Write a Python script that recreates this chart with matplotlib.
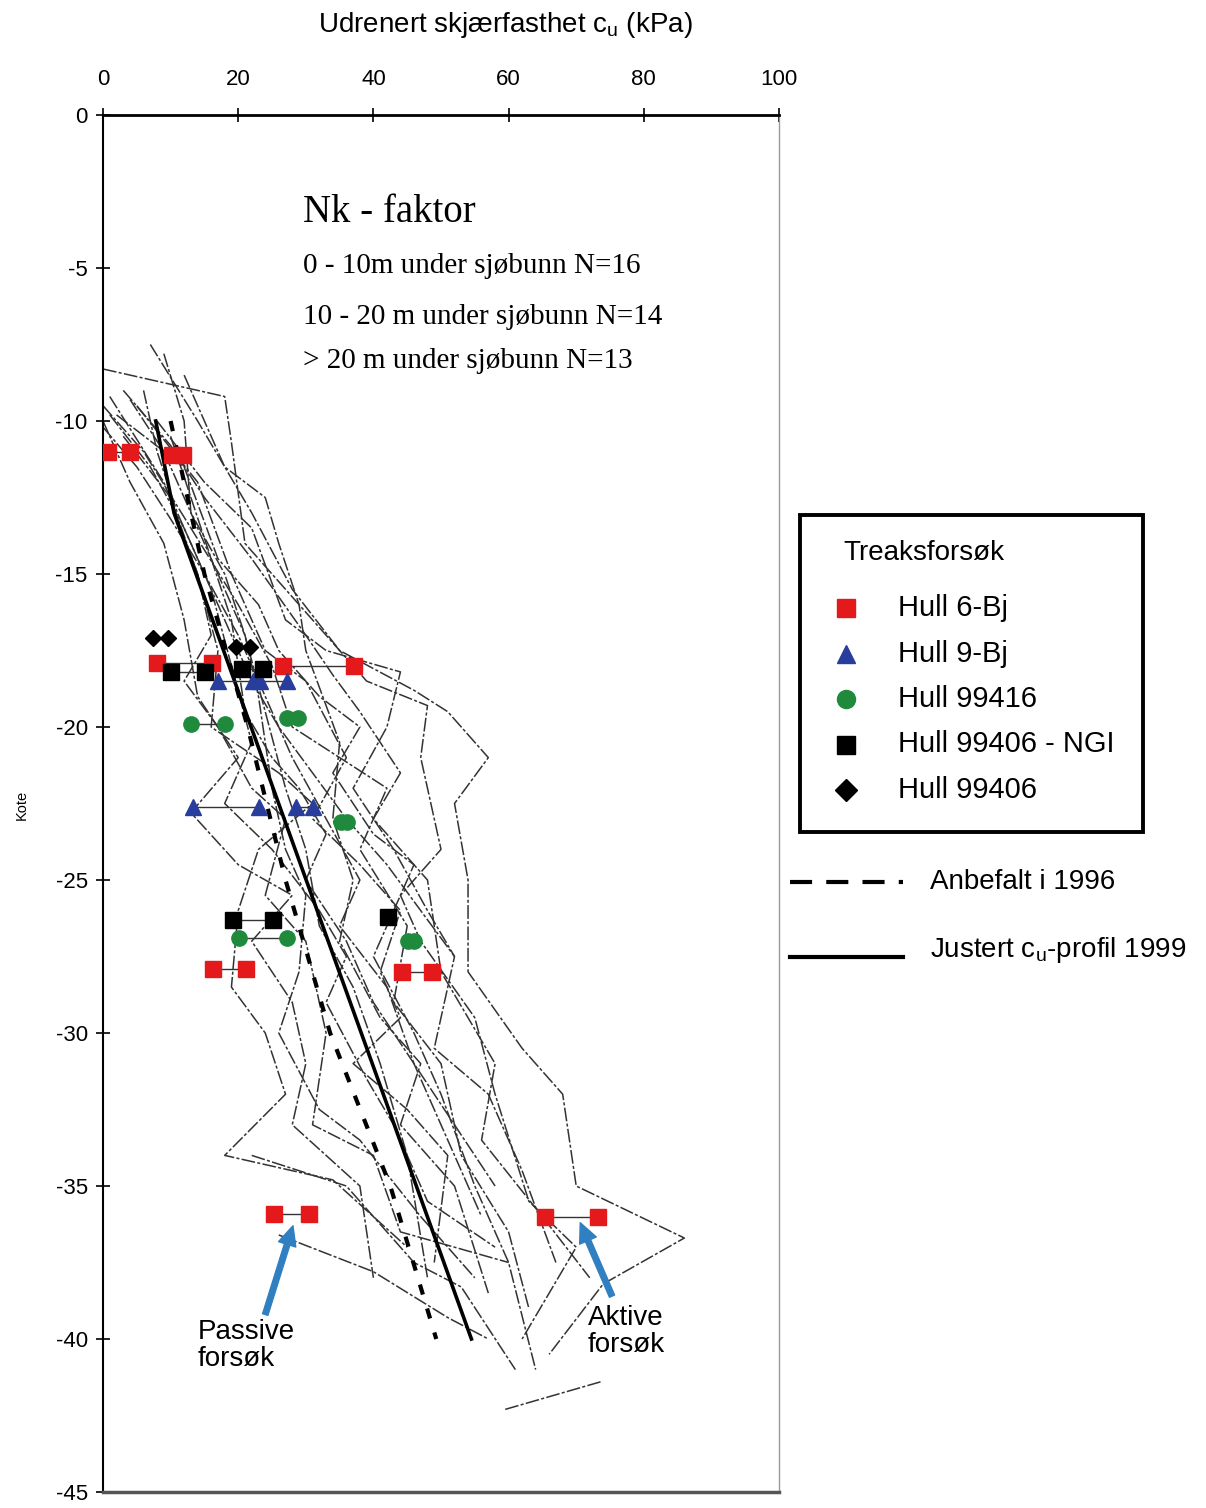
import matplotlib.pyplot as plt
from matplotlib.patches import Rectangle

plt.rcParams['font.family'] = ['Liberation Sans', 'DejaVu Sans']
plt.rcParams['axes.unicode_minus'] = False

# CPT-profiler (cu, kote) lest av figuren
cpt_cu = [
    [7, 14, 22, 28, 35, 46, 51, 57, 52, 54, 54, 62, 68, 70, 86, 74, 66],
    [0, 18, 19, 21, 27, 33, 39, 48, 47, 50, 44, 47, 55, 58, 63, 70, 62],
    [3, 10, 15, 22, 30, 34, 38, 44, 40, 48, 50, 58, 56, 65, 72],
    [0, 6, 13, 20, 25, 28, 35, 42, 38, 45, 43, 50, 53, 60, 63],
    [0, 4, 9, 12, 14, 20, 13, 20, 28, 22, 28, 30, 28, 38, 40],
    [1, 9, 14, 17, 16, 26, 31, 23, 20, 19, 24, 27, 18, 34, 45],
    [9, 12, 13, 18, 21, 23, 25, 27, 30, 29, 26, 32, 38, 47, 55],
    [2, 12, 17, 23, 26, 32, 38, 34, 40, 46, 40, 46, 50, 55, 60, 64],
    [6, 8, 11, 16, 19, 22, 18, 25, 32, 36, 33, 39, 43, 48, 58],
    [12, 18, 24, 26, 29, 30, 35, 34, 37, 35, 41, 47, 44, 52, 57],
    [5, 14, 19, 24, 30, 36, 31, 38, 44, 41, 44, 37, 45, 51, 49],
    [3, 10, 14, 16, 12, 17, 22, 27, 24, 30, 33, 31, 40, 44, 60],
    [8, 15, 22, 27, 33, 44, 42, 37, 43, 48, 52, 49, 57, 62, 67],
    [1, 7, 12, 16, 19, 22, 26, 31, 36, 42, 47, 52],
    [0, 5, 10, 15, 20, 24, 28, 33, 38, 35, 42, 46, 50, 56],
    [4, 9, 13, 17, 21, 24, 27, 30, 32, 37, 41, 45, 48],
    [10, 13, 16, 19, 20, 21, 25, 29, 33, 30, 36, 40, 46, 52, 58],
    [26, 40, 51, 57],
    [22, 36, 46, 53, 61],
    [59.5, 73.6],
]
cpt_kote = [
    [-7.5, -10, -13, -15.5, -17.5, -18.8, -19.5, -21, -22.5, -25, -28, -30.5, -32, -35, -36.7, -38.2, -40.5],
    [-8.3, -9.2, -10.7, -14, -15.5, -17, -18.5, -19.3, -21, -24, -25.5, -27, -29.5, -32, -35.5, -37, -40],
    [-9, -10.8, -12.5, -14.5, -17, -18.3, -19.5, -21.5, -23, -25, -28, -31, -33.5, -36, -38],
    [-9.5, -11, -13.5, -16, -18, -20, -21, -22, -24, -26.5, -29, -31, -34, -36.5, -39],
    [-10, -12, -14, -16.5, -19, -21, -22.8, -24.5, -25.5, -27, -29, -31, -33, -35, -38],
    [-9.2, -12, -15, -17.5, -20, -21.5, -22.5, -24, -26, -28.5, -30, -32, -34, -34.8, -37],
    [-7.8, -10, -13, -15, -17, -19, -22, -24, -25.5, -28, -30, -32.5, -33.5, -36, -38],
    [-9.8, -11.5, -14.5, -16, -17.5, -19, -20, -21.5, -23.5, -24.5, -27.5, -30, -32, -35, -37.5, -41],
    [-9, -11, -13, -15.5, -18, -20.5, -22.5, -24, -26, -27.5, -29, -31.5, -33, -35.5, -37],
    [-8.5, -11.5, -12.5, -14, -16, -17.5, -20.5, -23, -25, -27, -29.5, -31, -33, -35, -38.5],
    [-9.5, -12, -15, -17.5, -18.5, -21, -23, -24.5, -26, -28, -29.5, -31, -32.5, -34, -37.5],
    [-10.5, -12.5, -15, -17, -18.5, -20, -22, -23, -25.5, -27, -30, -33, -34, -36.5, -37.5],
    [-10, -12, -13.5, -16.5, -17.5, -18.2, -20, -22, -24, -26, -27.5, -30.5, -32, -34.5, -37.5],
    [-9.8, -11.5, -13.5, -15.5, -17, -18.5, -20, -21.5, -23, -24.5, -26, -27.5],
    [-10.2, -11.5, -13.2, -15, -17, -19, -21, -23, -25, -26.5, -28.5, -31, -33, -36],
    [-9.3, -11, -13, -15, -17, -19.5, -22, -24, -26.5, -28.5, -31, -34, -38],
    [-10.5, -12.5, -14.5, -16.5, -18, -19.5, -21, -22, -23.5, -25, -27, -29, -31, -33, -35],
    [-36.6, -37.8, -39.3, -40],
    [-34, -35, -37.5, -38.3, -41],
    [-42.3, -41.4],
]

# Treaksforsøk: kote og cu-par
red_kote = [-11.0, -11.1, -17.9, -18.0, -27.9, -28.0, -35.9, -36.0]
red_cu = [[0.7, 4.0], [10.2, 11.8], [8.0, 16.1], [26.6, 37.1], [16.3, 21.2], [44.2, 48.7], [25.3, 30.5], [65.4, 73.2]]
blue_kote = [-18.5, -18.5, -22.6, -22.6]
blue_cu = [[17.0, 22.2], [23.2, 27.2], [13.3, 23.1], [28.5, 31.1]]
green_kote = [-19.9, -19.7, -23.1, -26.9, -27.0]
green_cu = [[13.0, 18.0], [27.2, 28.8], [35.2, 36.1], [20.1, 27.2], [45.1, 46.0]]
ngi_kote = [-18.2, -18.1, -26.3, -26.2]
ngi_cu = [[10.1, 15.1], [20.6, 23.7], [19.2, 25.1], [42.2]]
dia_kote = [-17.1, -17.4]
dia_cu = [[7.4, 9.6], [19.7, 21.7]]

# cu-profiler
anbefalt_cu = [10, 15, 21.4, 27, 33.6, 42.5, 49.3]
anbefalt_kote = [-10, -15, -20, -25, -30, -35, -40]
justert_cu = [7.8, 10.5, 54.5]
justert_kote = [-10, -13, -40]

serier = ['Hull 6-Bj', 'Hull 9-Bj', 'Hull 99416', 'Hull 99406 - NGI', 'Hull 99406']
farger = ['#e3191c', '#283d9c', '#1f8a3c', 'black', 'black']
symboler = ['s', '^', 'o', 's', 'D']

fig = plt.figure(figsize=(12.06, 15.08), dpi=100)
ax = fig.add_axes([103 / 1206, 1 - 1492 / 1508, 676 / 1206, 1377 / 1508])

for xs, ys in zip(cpt_cu, cpt_kote):
    ax.plot(xs, ys, color='#333333', lw=1.1, ls=(0, (9, 1.5, 2, 1.5)), zorder=1)

ax.plot(anbefalt_cu, anbefalt_kote, color='black', lw=3, dashes=(2.5, 3.5), zorder=3)
ax.plot(justert_cu, justert_kote, color='black', lw=2.6, zorder=3)

grupper = [(red_cu, red_kote), (blue_cu, blue_kote), (green_cu, green_kote),
           (ngi_cu, ngi_kote), (dia_cu, dia_kote)]
for (cus, kotes), farge, sym in zip(grupper, farger, symboler):
    ms = 8 if sym == 'D' else 11
    for cu, k in zip(cus, kotes):
        ax.plot(cu, [k] * len(cu), color='#333333', lw=1, marker=sym, ms=ms,
                mfc=farge, mec=farge, zorder=4)

pil = dict(facecolor='#2f7fc1', edgecolor='#2f7fc1', width=4, headwidth=13, headlength=14, shrink=0)
ax.annotate('', xy=(28.1, -36.3), xytext=(24.0, -39.2), arrowprops=pil, zorder=5)
ax.annotate('', xy=(70.6, -36.2), xytext=(75.3, -38.6), arrowprops=pil, zorder=5)
ax.text(14.0, -40.2, 'Passive\nforsøk', fontsize=20, va='center', ha='left', linespacing=1.05)
ax.text(71.7, -39.75, 'Aktive\nforsøk', fontsize=20, va='center', ha='left', linespacing=1.05)

ax.text(29.6, -3.2, 'Nk - faktor', family='Liberation Serif', fontsize=28, va='center')
ax.text(29.6, -4.95, '0 - 10m under sjøbunn N=16', family='Liberation Serif', fontsize=21, va='center')
ax.text(29.6, -6.6, '10 - 20 m under sjøbunn N=14', family='Liberation Serif', fontsize=21, va='center')
ax.text(29.6, -8.05, '> 20 m under sjøbunn N=13', family='Liberation Serif', fontsize=21, va='center')

ax.set_xlim(0, 100)
ax.set_ylim(-45, 0)
ax.set_xticks(range(0, 101, 20))
ax.set_yticks(range(-45, 1, 5))
ax.xaxis.tick_top()
ax.tick_params(axis='x', direction='inout', length=10, width=1.2, labelsize=16, pad=13)
ax.tick_params(axis='y', direction='inout', length=10, width=1.2, labelsize=16, pad=6)
ax.spines['top'].set_linewidth(2)
ax.spines['left'].set_linewidth(1.5)
ax.spines['right'].set_color('#999999')
ax.spines['right'].set_linewidth(1)
ax.spines['bottom'].set_color('#555555')
ax.spines['bottom'].set_linewidth(2.5)

fig.text(505 / 1206, 1 - 25 / 1508, 'Udrenert skjærfasthet c$_\\mathregular{u}$ (kPa)',
         fontsize=20, ha='center', va='center')
fig.text(22 / 1206, 1 - 805 / 1508, 'Kote', fontsize=10.5, rotation=90, ha='center', va='center')

# Tegnforklaring (pikselkoordinater)
lax = fig.add_axes([780 / 1206, 1 - 1000 / 1508, 426 / 1206, 520 / 1508])
lax.set_xlim(780, 1206)
lax.set_ylim(1000, 480)
lax.axis('off')
lax.add_patch(Rectangle((800, 515), 343, 317, fill=False, lw=2.8, ec='black'))
lax.text(843, 553, 'Treaksforsøk', fontsize=20, va='center')
for i, (navn, farge, sym) in enumerate(zip(serier, farger, symboler)):
    yy = 608 + i * 45.5
    lax.plot([846], [yy], marker=sym, ms=11 if sym == 'D' else 13, color=farge, ls='none')
    lax.text(898, yy, navn, fontsize=21, va='center')
lax.plot([790, 903], [882, 882], color='black', lw=3, dashes=(5.3, 3.4))
lax.text(930, 882, 'Anbefalt i 1996', fontsize=20, va='center')
lax.plot([790, 903], [957, 957], color='black', lw=3)
lax.text(930, 950, 'Justert c$_\\mathregular{u}$-profil 1999', fontsize=20, va='center')

fig.savefig('out.png', dpi=100)
